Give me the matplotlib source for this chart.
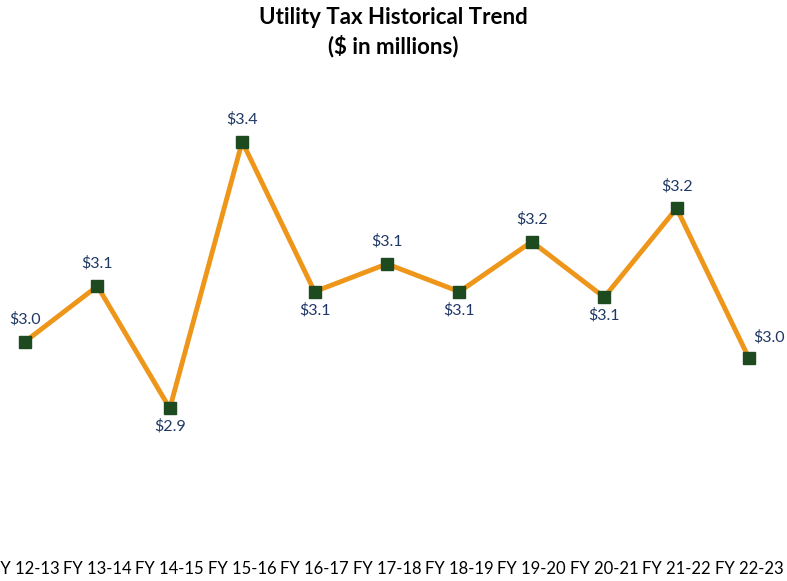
import matplotlib.pyplot as plt

# Utility tax by fiscal year, $ millions
years = ['FY 12-13', 'FY 13-14', 'FY 14-15', 'FY 15-16', 'FY 16-17', 'FY 17-18',
         'FY 18-19', 'FY 19-20', 'FY 20-21', 'FY 21-22', 'FY 22-23']
tax = [3.00, 3.10, 2.88, 3.36, 3.09, 3.14, 3.09, 3.18, 3.08, 3.24, 2.97]
# where each data label sits relative to its point
label_pos = ['above', 'above', 'below', 'above', 'below', 'above',
             'below', 'above', 'below', 'above', 'right']

plt.rcParams['font.family'] = ['Lato', 'DejaVu Sans']

fig = plt.figure(figsize=(7.87, 5.81), dpi=100)
ax = fig.add_axes([0, 31 / 581, 1, 550 / 581])

x = list(range(len(years)))
ax.plot(x, tax, color='#EE961A', linewidth=3.5, marker='s', markersize=9,
        markerfacecolor='#1D4A1F', markeredgecolor='#1D4A1F', zorder=3)

for i, v in enumerate(tax):
    txt = '$%.1f' % v
    if label_pos[i] == 'above':
        ax.annotate(txt, (i, v), xytext=(0, 11), textcoords='offset points',
                    ha='center', va='bottom', fontsize=11.5, color='#1F3864')
    elif label_pos[i] == 'below':
        ax.annotate(txt, (i, v), xytext=(0, -8), textcoords='offset points',
                    ha='center', va='top', fontsize=11.5, color='#1F3864')
    else:
        ax.annotate(txt, (i, v), xytext=(3, 10), textcoords='offset points',
                    ha='left', va='bottom', fontsize=11.5, color='#1F3864')

ax.set_xlim(-25 / 72.4, 10 + 38 / 72.4)
ax.set_ylim(2.625, 3.615)
ax.set_xticks(x)
ax.set_xticklabels(years, fontsize=12)
ax.tick_params(axis='x', length=0, pad=8)
ax.set_yticks([])
for s in ax.spines.values():
    s.set_visible(False)

fig.text(0.5, 0.988, 'Utility Tax Historical Trend\n($ in millions)', ha='center',
         va='top', fontsize=16, fontweight='bold', linespacing=1.35)

fig.savefig('out.png', dpi=100)
